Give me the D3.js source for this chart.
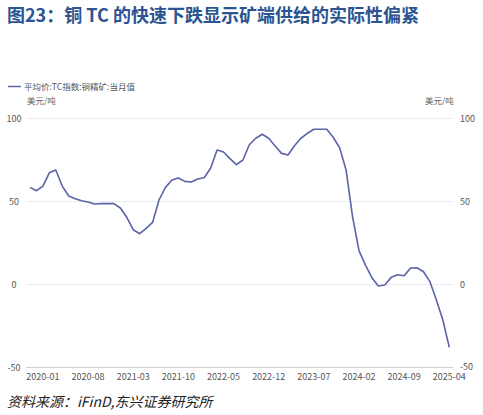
<!DOCTYPE html>
<html><head><meta charset="utf-8">
<script src="https://cdn.jsdelivr.net/npm/d3@7"></script>
<style>
body{margin:0;background:#fff;}
svg{display:block;font-family:"Noto Sans CJK SC","Noto Sans",sans-serif;}
</style></head>
<body>
<svg id="c" width="483" height="415"></svg>
<script>
const title = "图23：铜 TC 的快速下跌显示矿端供给的实际性偏紧";
const seriesName = "平均价:TC指数:铜精矿:当月值";
const unitLabel = "美元/吨";
const source = "资料来源：iFinD,东兴证券研究所";
// months 2019-11 .. 2025-04
const months = [];
(function(){ let y=2019,m=11; while(y<2025||(y===2025&&m<=4)){ months.push(y+"-"+String(m).padStart(2,"0")); m++; if(m>12){m=1;y++;} } })();
const values = [58.2,56.2,59,67,68.7,59,53,51.4,50.2,49.4,48.2,48.4,48.4,48.4,45.8,40.2,32.7,30.3,33.5,37.1,
50.6,58.2,62.7,63.9,61.8,61.4,63.3,64,69.7,80.7,79.5,75.5,71.9,74.7,83.9,87.8,90.2,87.8,83.1,78.7,
77.7,83.3,87.8,90.8,93.2,93.2,93.2,88.4,82.1,68.7,40.6,20.1,11.4,3.8,-1.2,-0.6,4,5.6,5,9.6,
9.8,7.4,1.4,-9.6,-21.7,-38.1];
const xTickLabels = ["2020-01","2020-08","2021-03","2021-10","2022-05","2022-12","2023-07","2024-02","2024-09","2025-04"];
const yTicks = [-50,0,50,100];

const svg = d3.select("#c");
const x = d3.scalePoint().domain(months).range([30,449.3]);
const y = d3.scaleLinear().domain([-50,100]).range([367,118]);

svg.append("text").attr("x",7).attr("y",22).text(title)
  .attr("font-size",18).attr("font-weight","bold").attr("fill","#2b5491");

// legend
svg.append("line").attr("x1",8).attr("x2",21).attr("y1",86.5).attr("y2",86.5).attr("stroke","#5a64a6").attr("stroke-width",1.5);
svg.append("text").attr("x",24).attr("y",89.5).text(seriesName).attr("font-size",8.5).attr("fill","#555");
svg.append("text").attr("x",27).attr("y",104).text(unitLabel).attr("font-size",8.5).attr("fill","#666");
svg.append("text").attr("x",425).attr("y",104).text(unitLabel).attr("font-size",8.5).attr("fill","#666");

// grid
svg.append("g").selectAll("line").data(yTicks).join("line")
  .attr("x1",26).attr("x2",453).attr("y1",d=>Math.round(y(d))+0.5).attr("y2",d=>Math.round(y(d))+0.5)
  .attr("stroke",d=>d===-50?"#cfcfd6":"#ebebf3").attr("stroke-width",1);

svg.append("g").selectAll("text").data(yTicks).join("text")
  .attr("x",14).attr("y",d=>y(d)+3.5).attr("text-anchor","middle").text(d=>d)
  .attr("font-size",9).attr("fill","#555");
svg.append("g").selectAll("text").data(yTicks).join("text")
  .attr("x",460).attr("y",d=>y(d)+(d===-50?2.5:3.5)).attr("text-anchor","start").text(d=>d)
  .attr("font-size",9).attr("fill","#555");

svg.append("g").selectAll("text").data(xTickLabels).join("text")
  .attr("x",d=>x(d)).attr("y",380).attr("text-anchor","middle").text(d=>d)
  .attr("font-size",9).attr("fill","#555");

svg.append("path").datum(values)
  .attr("d", d3.line().x((d,i)=>x(months[i])).y(d=>y(d)))
  .attr("fill","none").attr("stroke","#5a64a6").attr("stroke-width",1.6).attr("stroke-linejoin","round");

svg.append("text").attr("x",7).attr("y",407).text(source)
  .attr("font-size",14).attr("font-style","italic").attr("fill","#222");
</script>
</body></html>
